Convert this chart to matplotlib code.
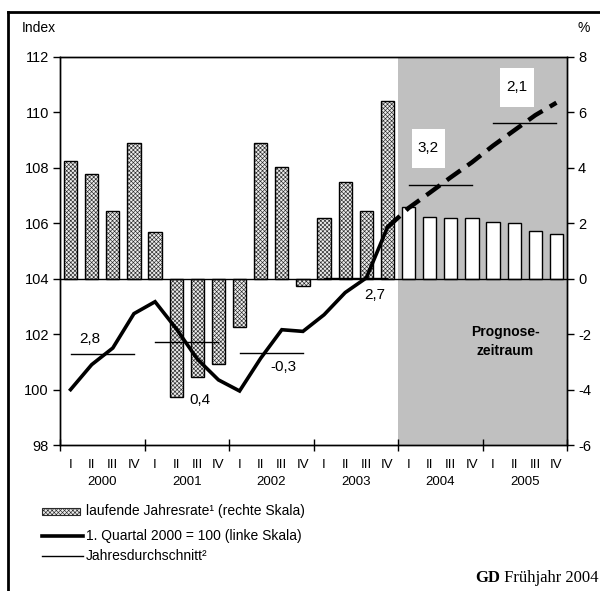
import matplotlib
matplotlib.use('Agg')
import matplotlib.pyplot as plt
from matplotlib.patches import Rectangle
from matplotlib.lines import Line2D
from matplotlib.transforms import blended_transform_factory

plt.rcParams['font.family'] = ['Liberation Sans', 'DejaVu Sans']
plt.rcParams['axes.unicode_minus'] = False
plt.rcParams['hatch.linewidth'] = 0.45

# --- data -------------------------------------------------------------
years = ['2000', '2001', '2002', '2003', '2004', '2005']
quarters = ['I', 'II', 'III', 'IV']

# laufende Jahresrate in % (right scale), 2000 Q1 .. 2005 Q4
rate_hist = [4.25, 3.78, 2.45, 4.90, 1.67, -4.25, -3.56, -3.07,
             -1.76, 4.90, 4.02, -0.28, 2.19, 3.49, 2.43, 6.40]
rate_fc = [2.60, 2.24, 2.18, 2.18, 2.06, 2.01, 1.73, 1.60]

# index, 1. Quartal 2000 = 100 (left scale)
index_hist = [100.0, 100.9, 101.5, 102.74, 103.17, 102.2, 101.1, 100.35,
              99.95, 101.13, 102.16, 102.1, 102.7, 103.5, 104.03, 105.85]
index_fc = [106.55, 107.1, 107.66, 108.2, 108.8, 109.35, 109.9, 110.35]

# annual growth labels (Jahresdurchschnitt)
growth_labels = ['2,8', '0,4', '-0,3', '2,7', '3,2', '2,1']
label_pos = [(1.42, 101.81), (6.63, 99.64), (10.56, 100.83),
             (14.91, 103.43), (17.42, 108.71), (21.63, 110.92)]

n_hist = len(rate_hist)
n_all = n_hist + len(rate_fc)
xc = [i + 0.5 for i in range(n_all)]
index_all = index_hist + index_fc

fig = plt.figure(figsize=(6.0, 5.91), dpi=100)
ax = fig.add_axes([0.1, 0.247, 0.845, 0.6566])
ax2 = ax.twinx()
ax.set_zorder(ax2.get_zorder() + 1)
ax.patch.set_visible(False)

# forecast period background
ax2.axvspan(n_hist, n_all, color='#c0c0c0', lw=0, zorder=0)

# bars (right scale)
w = 0.63
hatch_kw = dict(facecolor='#ececec', edgecolor='#2a2a2a', hatch='xxxxxxxx')
ax2.bar(xc[:n_hist], rate_hist, width=w, lw=0, zorder=2, **hatch_kw)
ax2.bar(xc[:n_hist], rate_hist, width=w, fill=False,
        edgecolor='black', lw=1.0, zorder=3)
ax2.bar(xc[n_hist:], rate_fc, width=w, facecolor='white',
        edgecolor='black', lw=1.0, zorder=3)
ax2.axhline(0, color='black', lw=1.0, zorder=4)

# index line (left scale)
ax.plot(xc[:n_hist], index_hist, color='black', lw=2.6,
        solid_joinstyle='miter', zorder=5)
ax.plot(xc[n_hist - 1:], index_all[n_hist - 1:], color='black', lw=3.2,
        dashes=(3.8, 1.9), zorder=5)

# annual averages
for k in range(len(years)):
    vals = index_all[4 * k:4 * k + 4]
    avg = sum(vals) / 4
    ax.plot([xc[4 * k], xc[4 * k + 3]], [avg, avg], color='black',
            lw=1.0, zorder=4)

# growth labels
for k, (lab, (lx, ly)) in enumerate(zip(growth_labels, label_pos)):
    if k >= 4:
        ax.add_patch(Rectangle((lx - 0.78, ly - 0.72), 1.6, 1.42,
                               facecolor='white', edgecolor='none', zorder=4))
    ax.text(lx, ly, lab, ha='center', va='center', fontsize=11, zorder=6)

ax.text(21.07, 101.74, 'Prognose-\nzeitraum', ha='center', va='center',
        fontsize=10, fontweight='bold', linespacing=1.5, zorder=6)

# axes
ax.set_xlim(0, n_all)
ax.set_ylim(98, 112)
ax2.set_ylim(-6, 8)
ax.set_yticks(range(98, 113, 2))
ax2.set_yticks(range(-6, 9, 2))
ax.set_xticks(range(0, n_all + 1, 4))
ax.set_xticklabels([])
ax.tick_params(axis='x', direction='inout', length=9, width=1)
ax.tick_params(axis='y', direction='out', length=5, width=1, labelsize=10.5, pad=3)
ax2.tick_params(axis='y', direction='out', length=5, width=1, labelsize=10.5, pad=3)
ax2.tick_params(axis='x', length=0)
for a in (ax, ax2):
    for s in a.spines.values():
        s.set_linewidth(1.0)

trans = blended_transform_factory(ax.transData, ax.transAxes)
for i in range(n_all):
    ax.text(xc[i], -0.052, quarters[i % 4], transform=trans, ha='center',
            va='center', fontsize=9.5)
for k, y in enumerate(years):
    ax.text(4 * k + 2, -0.095, y, transform=trans, ha='center', va='center',
            fontsize=9.5)

fig.text(22 / 600, 1 - 28 / 591, 'Index', ha='left', va='center', fontsize=10)
fig.text(590 / 600, 1 - 28 / 591, '%', ha='right', va='center', fontsize=10)

# legend (drawn by hand)
fig.add_artist(Rectangle((42 / 600, 1 - 515 / 591), 38 / 600, 7 / 591,
                         transform=fig.transFigure, lw=0.8, **hatch_kw))
fig.add_artist(Line2D([42 / 600, 83 / 600], [1 - 536 / 591] * 2,
                      transform=fig.transFigure, color='black', lw=2.6))
fig.add_artist(Line2D([42 / 600, 83 / 600], [1 - 556 / 591] * 2,
                      transform=fig.transFigure, color='black', lw=1.0))
legend_texts = ['laufende Jahresrate\u00b9 (rechte Skala)',
                '1. Quartal 2000 = 100 (linke Skala)',
                'Jahresdurchschnitt\u00b2']
for t, yy in zip(legend_texts, [511, 536, 556]):
    fig.text(86 / 600, 1 - yy / 591, t, ha='left', va='center', fontsize=10)

# source line: "GD" bold right before "Frühjahr 2004"
src = fig.text(599 / 600, 1 - 582 / 591, ' Frühjahr 2004', ha='right',
               va='baseline', fontsize=12, family='Liberation Serif')
fig.canvas.draw()
bb = src.get_window_extent()
fig.text(bb.x0 / fig.bbox.width, 1 - 582 / 591, 'GD', ha='right',
         va='baseline', fontsize=12, fontweight='bold',
         family='Liberation Serif')

# outer frame
fig.add_artist(Line2D([8 / 600, 1.0], [1 - 12 / 591] * 2,
                      transform=fig.transFigure, color='black', lw=2))
fig.add_artist(Line2D([8 / 600, 8 / 600], [0, 1 - 12 / 591],
                      transform=fig.transFigure, color='black', lw=2))

fig.savefig('out.png', dpi=100)
